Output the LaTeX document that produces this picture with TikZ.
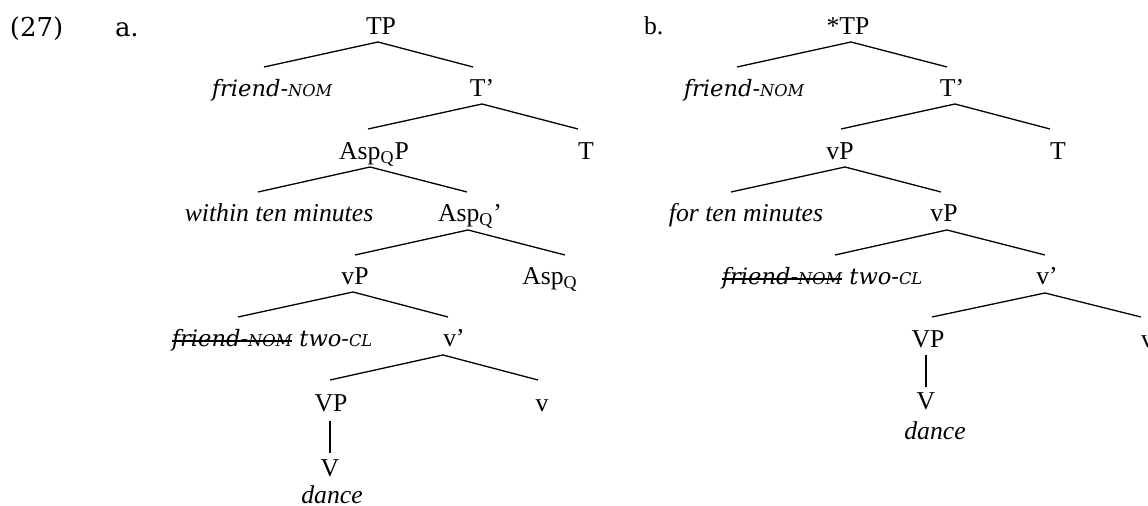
\documentclass[tikz,border=0pt]{standalone}
\usepackage{fontspec}
\setmainfont{Liberation Serif}
\newfontfamily\chfont{DejaVu Serif}
\newsavebox\strkbox
\newcommand\strk[1]{\sbox\strkbox{#1}\rlap{\rule[2.5pt]{\wd\strkbox}{0.9pt}}\usebox\strkbox}
\newcommand\chit[1]{{\chfont\itshape\fontsize{11.3}{14}\selectfont #1}}
\newcommand\smc[1]{{\fontsize{8.1}{10}\selectfont #1}}
\newcommand\chup[1]{{\chfont\fontsize{13}{16}\selectfont #1}}
\begin{document}
\begin{tikzpicture}[x=0.5pt,y=-0.5pt,
  every node/.style={inner sep=0pt,outer sep=0pt,anchor=base,font=\fontsize{12.85}{15}\selectfont},
  edge/.style={line width=0.65pt}]
\useasboundingbox (0,0) rectangle (1148,506);
% labels
\node[anchor=base west] (ex) at (10,37) {\chup{(27)}};
\node[anchor=base west] (la) at (115,37) {\chup{a.}};
\node[anchor=base west] (lb) at (644,35) {b.};
% tree a
\node (TPa) at (381,35) {TP};
\node (fnA) at (272,97) {\chit{friend-\smc{NOM}}};
\node (Tba) at (482,97) {T’};
\node (AspQPa) at (374,160) {Asp\textsubscript{Q}P};
\node (Ta) at (586,160) {T};
\node (withinA) at (279,222) {\itshape within ten minutes};
\node (AspQba) at (470,222) {Asp\textsubscript{Q}’};
\node (vPa) at (355,285) {vP};
\node (AspQa) at (550,285) {Asp\textsubscript{Q}};
\node (fntA) at (272,347) {\chit{\strk{friend-\smc{NOM}} two-\smc{CL}}};
\node (vba) at (454,347) {v’};
\node (VPa) at (331,412) {VP};
\node (va) at (542,412) {v};
\node (Va) at (330,477) {V};
\node (danceA) at (332,504) {\itshape dance};
\draw[edge] ([shift={(-8,-30)}]fnA.base) -- ([shift={(-3,7)}]TPa.base) -- ([shift={(-9,-30)}]Tba.base);
\draw[edge] ([shift={(-6,-31)}]AspQPa.base) -- ([shift={(0,7)}]Tba.base) -- ([shift={(-8,-31)}]Ta.base);
\draw[edge] ([shift={(-21,-30)}]withinA.base) -- ([shift={(-4,7)}]AspQPa.base) -- ([shift={(-3,-30)}]AspQba.base);
\draw[edge] ([shift={(0,-30)}]vPa.base) -- ([shift={(-2,8)}]AspQba.base) -- ([shift={(15,-30)}]AspQa.base);
\draw[edge] ([shift={(-34,-30)}]fntA.base) -- ([shift={(-2,7)}]vPa.base) -- ([shift={(-6,-30)}]vba.base);
\draw[edge] ([shift={(-1,-32)}]VPa.base) -- ([shift={(-11,8)}]vba.base) -- ([shift={(-4,-32)}]va.base);
\draw[edge] ([shift={(-1,9)}]VPa.base) -- ([shift={(0,-24)}]Va.base);
% tree b
\node (TPb) at (848,35) {*TP};
\node (fnB) at (744,97) {\chit{friend-\smc{NOM}}};
\node (Tbb) at (952,97) {T’};
\node (vPb1) at (840,160) {vP};
\node (Tb) at (1058,160) {T};
\node (forB) at (746,222) {\itshape for ten minutes};
\node (vPb2) at (944,222) {vP};
\node (fntB) at (822,285) {\chit{\strk{friend-\smc{NOM}} two-\smc{CL}}};
\node (vbb) at (1047,285) {v’};
\node (VPb) at (928,348) {VP};
\node[anchor=base west] (vb) at (1141,348) {v};
\node (Vb) at (926,410) {V};
\node (danceB) at (935,440) {\itshape dance};
\draw[edge] ([shift={(-7,-30)}]fnB.base) -- ([shift={(3,7)}]TPb.base) -- ([shift={(-5,-30)}]Tbb.base);
\draw[edge] ([shift={(1,-31)}]vPb1.base) -- ([shift={(3,7)}]Tbb.base) -- ([shift={(-8,-31)}]Tb.base);
\draw[edge] ([shift={(-15,-30)}]forB.base) -- ([shift={(5,7)}]vPb1.base) -- ([shift={(-3,-30)}]vPb2.base);
\draw[edge] ([shift={(13,-30)}]fntB.base) -- ([shift={(3,8)}]vPb2.base) -- ([shift={(-2,-30)}]vbb.base);
\draw[edge] ([shift={(4,-31)}]VPb.base) -- ([shift={(-2,8)}]vbb.base) -- ([shift={(0,-31)}]vb.base west);
\draw[edge] ([shift={(-2,7)}]VPb.base) -- ([shift={(0,-23)}]Vb.base);
\end{tikzpicture}
\end{document}
